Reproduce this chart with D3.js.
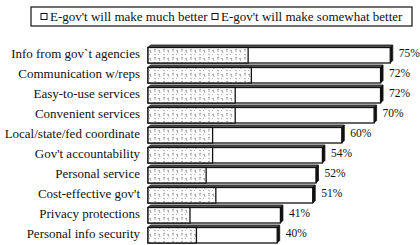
<!DOCTYPE html>
<html>
<head>
<meta charset="utf-8">
<script src="https://cdn.jsdelivr.net/npm/d3@7"></script>
<style>
  body { margin: 0; background: #fff; }
  svg { display: block; }
</style>
</head>
<body>
<div id="graph"></div>
<script>
// data
var categories = [
  "Info from gov`t agencies",
  "Communication w/reps",
  "Easy-to-use services",
  "Convenient services",
  "Local/state/fed coordinate",
  "Gov't accountability",
  "Personal service",
  "Cost-effective gov't",
  "Privacy protections",
  "Personal info security"
];
var muchBetter = [31, 32, 27, 27, 20, 20, 18, 21, 13, 15];
var totalBetter = [75, 72, 72, 70, 60, 54, 52, 51, 41, 40];
var seriesNames = ["E-gov't will make much better", "E-gov't will make somewhat better"];

//measurements
var width = 420;
var height = 245;
var depth = 2.5;
var serif = "'Liberation Serif', 'Times New Roman', 'DejaVu Serif', serif";

var chart = d3.select("#graph").append("svg")
    .attr("width", width)
    .attr("height", height)
    .attr("font-family", serif);

// speckled fill for the "much better" part
var defs = chart.append("defs");
var pat = defs.append("pattern")
    .attr("id", "speckle")
    .attr("patternUnits", "userSpaceOnUse")
    .attr("width", 9)
    .attr("height", 8);
pat.append("rect").attr("width", 9).attr("height", 8).attr("fill", "#fff");
pat.append("path")
    .attr("d", "M1,2 L3,1 M2,1 L2,4 M5,3 L7,2 M6,2 L7,5 M1,6 L3,7 M5,6 L6,7")
    .attr("stroke", "#9a9a9a")
    .attr("stroke-width", 0.8)
    .attr("fill", "none");

var xScale = d3.scaleLinear().domain([0, 100]).range([148, 471]);
var yScale = d3.scaleBand().domain(categories).range([44, 244]).paddingInner(0.1).paddingOuter(0.05);

var rows = categories.map(function (c, i) {
  return { cat: c, much: muchBetter[i], total: totalBetter[i] };
});

var bars = chart.append("g").selectAll(".bar")
    .data(rows)
    .enter().append("g")
      .attr("class", "bar");

// top face
bars.append("path")
    .attr("d", function (d) {
      var x0 = xScale(0), x1 = xScale(d.total), y0 = yScale(d.cat) + depth;
      return "M" + x0 + "," + y0 + "L" + (x0 + depth) + "," + (y0 - depth) +
             "L" + (x1 + depth) + "," + (y0 - depth) + "L" + x1 + "," + y0 + "Z";
    })
    .attr("fill", "#555")
    .attr("stroke", "#111")
    .attr("stroke-width", 0.8);

// right face
bars.append("path")
    .attr("d", function (d) {
      var x1 = xScale(d.total), y0 = yScale(d.cat) + depth, y1 = yScale(d.cat) + yScale.bandwidth();
      return "M" + x1 + "," + y0 + "L" + (x1 + depth) + "," + (y0 - depth) +
             "L" + (x1 + depth) + "," + (y1 - depth) + "L" + x1 + "," + y1 + "Z";
    })
    .attr("fill", "#111")
    .attr("stroke", "#111")
    .attr("stroke-width", 0.8);

// somewhat better (whole front face, white)
bars.append("rect")
    .attr("x", xScale(0))
    .attr("y", function (d) { return yScale(d.cat) + depth; })
    .attr("width", function (d) { return xScale(d.total) - xScale(0); })
    .attr("height", yScale.bandwidth() - depth)
    .attr("fill", "#fff")
    .attr("stroke", "#111")
    .attr("stroke-width", 1.3);

// much better
bars.append("rect")
    .attr("x", xScale(0))
    .attr("y", function (d) { return yScale(d.cat) + depth; })
    .attr("width", function (d) { return xScale(d.much) - xScale(0); })
    .attr("height", yScale.bandwidth() - depth)
    .attr("fill", "url(#speckle)")
    .attr("stroke", "#111")
    .attr("stroke-width", 1.3);

// value labels
bars.append("text")
    .attr("x", function (d) { return xScale(d.total) + depth + 6; })
    .attr("y", function (d) { return yScale(d.cat) + yScale.bandwidth() / 2; })
    .attr("dominant-baseline", "middle")
    .attr("fill", "#111")
    .style("font-size", "11.5px")
    .text(function (d) { return d.total + "%"; });

// category labels
chart.append("g").selectAll(".cat")
    .data(categories)
    .enter().append("text")
      .attr("class", "cat")
      .attr("x", 140)
      .attr("y", function (d) { return yScale(d) + yScale.bandwidth() / 2 + 1; })
      .attr("text-anchor", "end")
      .attr("dominant-baseline", "middle")
      .attr("fill", "#111")
      .style("font-size", "13px")
      .text(function (d) { return d; });

// legend
var legend = chart.append("g");
legend.append("rect")
    .attr("x", 31).attr("y", 7)
    .attr("width", 381).attr("height", 19)
    .attr("fill", "#fff")
    .attr("stroke", "#111")
    .attr("stroke-width", 1.2);

var legendX = [41, 212];
seriesNames.forEach(function (s, i) {
  legend.append("rect")
      .attr("x", legendX[i]).attr("y", 13.5)
      .attr("width", 6).attr("height", 6)
      .attr("fill", "#fff")
      .attr("stroke", "#111")
      .attr("stroke-width", 1);
  legend.append("text")
      .attr("x", legendX[i] + 9)
      .attr("y", 21)
      .attr("fill", "#111")
      .style("font-size", "13px")
      .text(s);
});
</script>
</body>
</html>
